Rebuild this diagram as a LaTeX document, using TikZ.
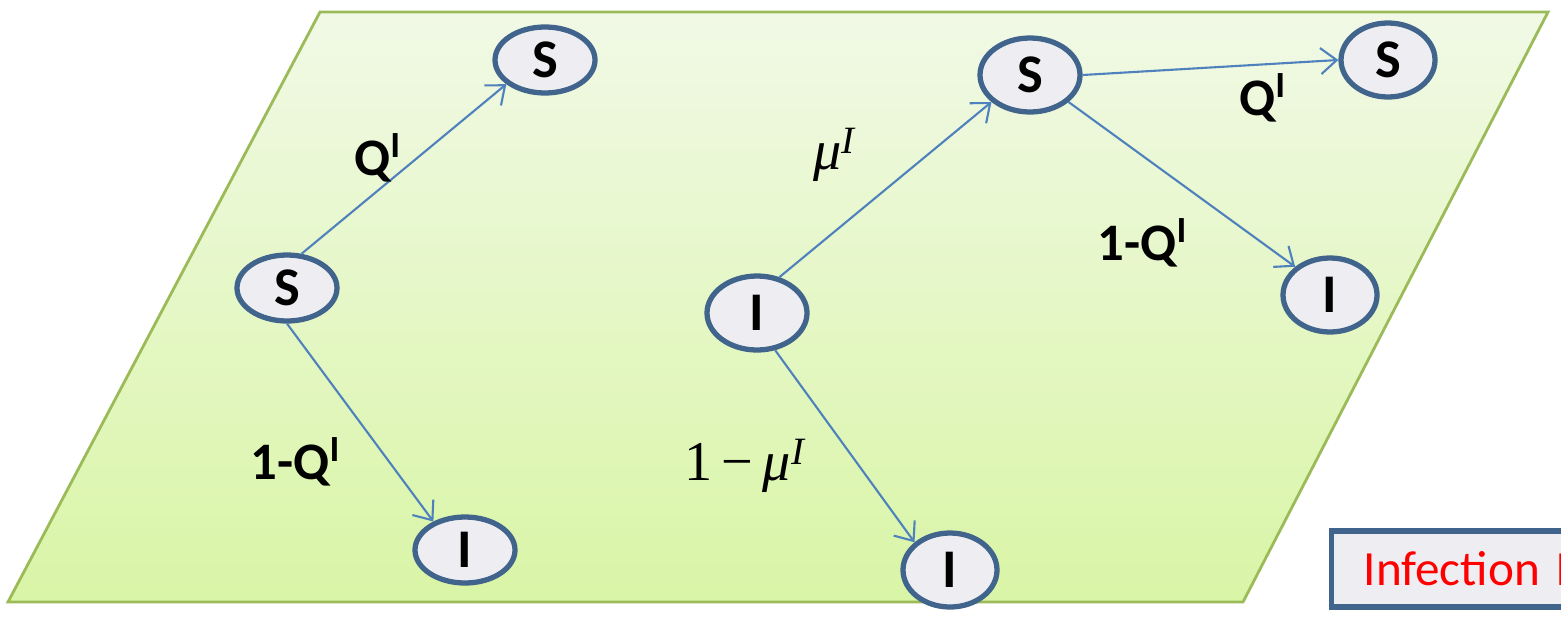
\documentclass[tikz,border=0pt]{standalone}
\usepackage{fontspec}
\setmainfont{Carlito}
\newfontfamily\serifmu{Liberation Serif}
\usetikzlibrary{shapes.geometric,arrows.meta}

\definecolor{layerfill}{HTML}{D9F5A6}
\definecolor{layertop}{HTML}{F1F9E6}
\definecolor{layeredge}{HTML}{9BBB59}
\definecolor{ringblue}{HTML}{41648C}
\definecolor{ringfill}{HTML}{EEEEF2}
\definecolor{linkblue}{HTML}{4F81BD}

\tikzset{
  state/.style = {ellipse, draw=ringblue, line width=1.5pt, fill=ringfill,
    minimum width=10mm, minimum height=6.6mm, inner sep=0pt, font=\bfseries\fontsize{15.5}{15.5}\selectfont},
  link/.style = {draw=linkblue, line width=0.6pt, -{Straight Barb[length=1.6mm,width=2.6mm]}},
  prob/.style = {font=\bfseries\fontsize{15}{15}\selectfont},
  muprob/.style = {font=\serifmu\fontsize{16}{16}\selectfont}
}

\begin{document}
\begin{tikzpicture}[x=0.1mm, y=-0.1mm]
\useasboundingbox (0,0) rectangle (1561,620);
\clip (0,0) rectangle (1561,620);

% the layer
\shade[top color=layertop, bottom color=layerfill, draw=layeredge, line width=0.8pt]
  (320,12) -- (1548,12) -- (1243,602) -- (8,602) -- cycle;

% left tree
\node[state] (sA) at (287,288) {S};
\node[state] (sB) at (545,60) {S};
\node[state] (iA) at (465,550) {I};
% right tree
\node[state, minimum height=7.4mm] (iB) at (757,313) {I};
\node[state, minimum height=7.4mm] (sC) at (1030,75) {S};
\node[state, minimum width=9.4mm, minimum height=7.4mm] (sD) at (1388,60) {S};
\node[state, minimum width=9.4mm, minimum height=7.4mm] (iC) at (1330,295) {I};
\node[state, minimum width=9.4mm, minimum height=7.4mm] (iD) at (950,570) {I};

\draw[link] (sA.67) -- (sB.212);
\draw[link] (sA.270) -- (iA.138);
\draw[link] (iB.58) -- (sC.215);
\draw[link] (iB.296) -- (iD.142);
\draw[link] (sC.0) -- (sD.180);
\draw[link] (sC.325) -- (iC.141);

% probabilities
\node[prob] (qA) at (378,158) {Q\textsuperscript{I}};
\node[prob] (qB) at (296,462) {1-Q\textsuperscript{I}};
\node[prob] (qC) at (1263,98) {Q\textsuperscript{I}};
\node[prob] (qD) at (1143,243) {1-Q\textsuperscript{I}};
\node[muprob] (mA) at (835,155) {\textit{μ}\raisebox{0.6ex}{\fontsize{11}{11}\selectfont\textit{I}}};
\node[muprob] (mB) at (745,466) {1\,−\,\textit{μ}\raisebox{0.6ex}{\fontsize{11}{11}\selectfont\textit{I}}};

% caption box, cut by the picture edge
\node[draw=ringblue, line width=1.5pt, fill=ringfill, anchor=west, minimum height=7.6mm,
  text width=30mm, inner xsep=3.2mm, text=red, font=\fontsize{14}{14}\selectfont] (layer) at (1329,569) {Infection L};
\end{tikzpicture}
\end{document}
